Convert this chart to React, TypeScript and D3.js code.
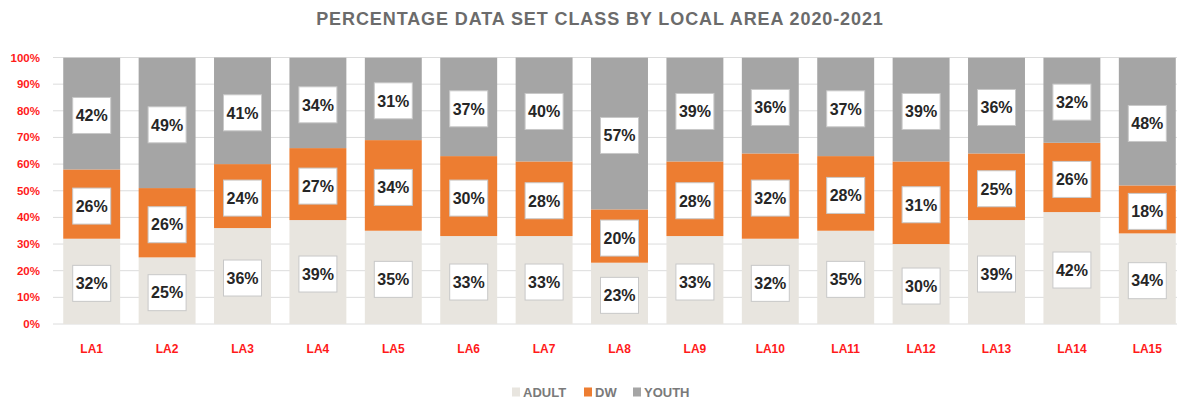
import * as d3 from "d3";

const areas = ["LA1", "LA2", "LA3", "LA4", "LA5", "LA6", "LA7", "LA8", "LA9", "LA10", "LA11", "LA12", "LA13", "LA14", "LA15"];
const adult = [32, 25, 36, 39, 35, 33, 33, 23, 33, 32, 35, 30, 39, 42, 34];
const dw = [26, 26, 24, 27, 34, 30, 28, 20, 28, 32, 28, 31, 25, 26, 18];
const youth = [42, 49, 41, 34, 31, 37, 40, 57, 39, 36, 37, 39, 36, 32, 48];
const seriesNames = ["ADULT", "DW", "YOUTH"];
const yTicks = [0, 10, 20, 30, 40, 50, 60, 70, 80, 90, 100];

const colors = ["#e8e5df", "#ed7d31", "#a5a5a5"];
const red = "#ff1a1a";
const font = "'Liberation Sans', Arial, sans-serif";

export default function App() {
    const W = 1177, H = 403;
    const x = d3.scaleBand().domain(areas).range([54, 1185]).paddingInner(0.245).paddingOuter(0.1225);
    const y = d3.scaleLinear().domain([0, 100]).range([324, 57.5]);

    const rows = areas.map((a, i) => ({area: a, ADULT: adult[i], DW: dw[i], YOUTH: youth[i]}));
    const stack = d3.stack<any>().keys(seriesNames)(rows);

    return (
        <svg width={W} height={H} style={{position: "absolute", left: 0, top: 0, background: "#fff"}}
             fontFamily={font}>
            <defs>
                <clipPath id="plot">
                    <rect x={0} y={y(100)} width={W} height={y(0) - y(100)}/>
                </clipPath>
            </defs>
            <text x={600} y={25} textAnchor="middle" fontSize={18} fontWeight="bold" fill="#6b6b6b"
                  letterSpacing={0.9}>PERCENTAGE DATA SET CLASS BY LOCAL AREA 2020-2021</text>

            {yTicks.map(t => (
                <g key={t}>
                    <line x1={53} x2={W} y1={y(t)} y2={y(t)} stroke="#dcdcdc" strokeWidth={1}/>
                    <text x={40} y={y(t)} dy="0.35em" textAnchor="end" fontSize={11.5} fontWeight="bold"
                          fill={red}>{t}%</text>
                </g>
            ))}

            <g clipPath="url(#plot)">
                {stack.map((s, si) => (
                    <g key={s.key} fill={colors[si]}>
                        {s.map((d, i) => (
                            <rect key={i} x={x(areas[i])} y={y(d[1])} width={x.bandwidth()}
                                  height={y(d[0]) - y(d[1])}/>
                        ))}
                    </g>
                ))}
            </g>

            {stack.map((s, si) => (
                <g key={"l" + s.key}>
                    {s.map((d, i) => {
                        const cx = x(areas[i])! + x.bandwidth() / 2;
                        const cy = (y(d[0]) + y(Math.min(100, d[1]))) / 2 + 2;
                        return (
                            <g key={i}>
                                <rect x={cx - 19} y={cy - 18} width={38} height={36} fill="#fff"
                                      stroke="#c8c8c8" strokeWidth={1}/>
                                <text x={cx} y={cy} dy="0.36em" textAnchor="middle" fontSize={16}
                                      fontWeight="bold" fill="#262626">{d[1] - d[0]}%</text>
                            </g>
                        );
                    })}
                </g>
            ))}

            {areas.map(a => (
                <text key={a} x={x(a)! + x.bandwidth() / 2} y={349} dy="0.35em" textAnchor="middle"
                      fontSize={12} fontWeight="bold" fill={red}>{a}</text>
            ))}

            {[
                {name: "ADULT", mx: 512, tx: 523},
                {name: "DW", mx: 584, tx: 595},
                {name: "YOUTH", mx: 633, tx: 644},
            ].map((l, i) => (
                <g key={l.name}>
                    <rect x={l.mx} y={387.5} width={8} height={9} fill={colors[i]}/>
                    <text x={l.tx} y={392} dy="0.36em" fontSize={13} fontWeight="bold"
                          fill="#7a7a7a">{seriesNames[i]}</text>
                </g>
            ))}
        </svg>
    );
}
